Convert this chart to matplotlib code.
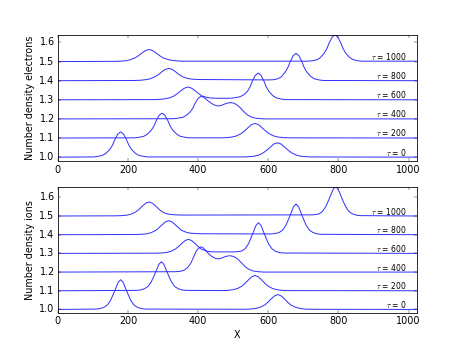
import matplotlib
matplotlib.use("Agg")
import matplotlib.pyplot as plt

taus = [0, 200, 400, 600, 800, 1000]
offsets = [0.0, 0.1, 0.2, 0.3, 0.4, 0.5]
xticks = [0, 200, 400, 600, 800, 1000]
yticks = [1.0, 1.1, 1.2, 1.3, 1.4, 1.5, 1.6]

# ---------------- electrons ----------------
e_x_0 = [0, 101, 114, 127, 137, 148, 156, 163, 171, 179, 187, 195, 202, 210, 221, 231, 244, 257,
         527, 543, 560, 573, 586, 596, 606, 616, 626, 636, 646, 656, 666, 679, 692, 709, 725, 1023]
e_n_0 = [1.0, 1.001, 1.004, 1.009, 1.020, 1.040, 1.064, 1.094, 1.121, 1.132, 1.121, 1.094, 1.064, 1.040, 1.020, 1.009, 1.004, 1.001,
         1.001, 1.002, 1.005, 1.011, 1.023, 1.037, 1.053, 1.069, 1.075, 1.069, 1.053, 1.037, 1.023, 1.011, 1.005, 1.002, 1.001, 1.0]

e_x_200 = [0, 219, 232, 245, 255, 266, 274, 281, 289, 297, 305, 313, 320, 328, 339, 349, 362, 375,
           463, 479, 496, 509, 522, 532, 542, 552, 562, 572, 582, 592, 602, 615, 628, 645, 661, 1023]
e_n_200 = [1.0, 1.001, 1.004, 1.009, 1.020, 1.040, 1.063, 1.093, 1.119, 1.130, 1.119, 1.093, 1.063, 1.040, 1.020, 1.009, 1.004, 1.001,
           1.001, 1.002, 1.005, 1.011, 1.023, 1.037, 1.054, 1.070, 1.076, 1.070, 1.054, 1.037, 1.023, 1.011, 1.005, 1.002, 1.001, 1.0]

e_x_400 = [0, 330, 343, 356, 366, 377, 385, 392, 400, 408, 415, 422, 430, 438, 446, 452, 458,
           465, 472, 480, 487, 494, 502, 510, 518, 526, 534, 542, 550, 560, 572, 588, 1023]
e_n_400 = [1.0, 1.001, 1.004, 1.008, 1.018, 1.036, 1.057, 1.084, 1.108, 1.118, 1.114, 1.104, 1.092, 1.081, 1.073, 1.069, 1.068,
           1.070, 1.075, 1.081, 1.084, 1.085, 1.082, 1.074, 1.062, 1.046, 1.031, 1.019, 1.011, 1.005, 1.002, 1.0, 1.0]

e_x_600 = [0, 272, 288, 305, 318, 331, 341, 351, 361, 371, 381, 391, 401, 411, 424, 437, 454, 470,
           493, 506, 519, 529, 540, 548, 555, 563, 571, 579, 587, 594, 602, 613, 623, 636, 649, 1023]
e_n_600 = [1.0, 1.001, 1.002, 1.005, 1.010, 1.020, 1.033, 1.048, 1.061, 1.067, 1.061, 1.048, 1.033, 1.020, 1.013, 1.009, 1.008, 1.008,
           1.008, 1.011, 1.016, 1.025, 1.043, 1.068, 1.100, 1.128, 1.140, 1.128, 1.100, 1.068, 1.043, 1.021, 1.010, 1.004, 1.001, 1.0]

e_x_800 = [0, 217, 233, 250, 263, 276, 286, 296, 306, 316, 326, 336, 346, 356, 369, 382, 399, 415,
           601, 614, 627, 637, 648, 656, 663, 671, 679, 687, 695, 702, 710, 721, 731, 744, 757, 1023]
e_n_800 = [1.0, 1.001, 1.002, 1.005, 1.010, 1.020, 1.031, 1.046, 1.059, 1.064, 1.059, 1.046, 1.031, 1.020, 1.012, 1.008, 1.006, 1.006,
           1.004, 1.005, 1.010, 1.020, 1.044, 1.070, 1.102, 1.131, 1.143, 1.131, 1.102, 1.070, 1.044, 1.022, 1.010, 1.004, 1.001, 1.0]

e_x_1000 = [0, 161, 177, 194, 207, 220, 230, 240, 250, 260, 270, 280, 290, 300, 313, 326, 343, 359,
            712, 725, 738, 748, 759, 767, 774, 782, 790, 798, 806, 813, 821, 832, 842, 855, 868, 1023]
e_n_1000 = [1.0, 1.001, 1.002, 1.004, 1.010, 1.019, 1.031, 1.045, 1.058, 1.063, 1.058, 1.045, 1.031, 1.019, 1.011, 1.006, 1.003, 1.002,
            1.002, 1.004, 1.009, 1.020, 1.043, 1.068, 1.100, 1.128, 1.140, 1.128, 1.100, 1.068, 1.043, 1.021, 1.010, 1.004, 1.002, 1.002]

# ---------------- ions ----------------
i_x_0 = [0, 107, 119, 131, 141, 150, 157, 165, 172, 179, 186, 193, 201, 208, 217, 227, 239, 251,
         534, 549, 565, 577, 590, 599, 608, 618, 627, 636, 646, 655, 664, 677, 689, 705, 720, 1023]
i_n_0 = [1.0, 1.002, 1.004, 1.011, 1.024, 1.048, 1.077, 1.113, 1.146, 1.159, 1.146, 1.113, 1.077, 1.048, 1.024, 1.011, 1.004, 1.002,
         1.001, 1.002, 1.006, 1.012, 1.024, 1.039, 1.057, 1.073, 1.080, 1.073, 1.057, 1.039, 1.024, 1.012, 1.006, 1.002, 1.001, 1.0]

i_x_200 = [0, 223, 235, 247, 257, 266, 273, 281, 288, 295, 302, 309, 317, 324, 333, 343, 355, 367,
           469, 484, 500, 512, 525, 534, 543, 553, 562, 571, 581, 590, 599, 612, 624, 640, 655, 1023]
i_n_200 = [1.0, 1.002, 1.004, 1.011, 1.023, 1.047, 1.075, 1.110, 1.142, 1.155, 1.142, 1.110, 1.075, 1.047, 1.023, 1.011, 1.004, 1.002,
           1.001, 1.002, 1.006, 1.012, 1.025, 1.040, 1.058, 1.075, 1.082, 1.075, 1.058, 1.040, 1.025, 1.012, 1.006, 1.002, 1.001, 1.0]

i_x_400 = [0, 336, 348, 360, 370, 379, 386, 394, 401, 408, 414, 421, 428, 436, 444, 451, 458,
           465, 472, 480, 487, 494, 501, 509, 517, 525, 533, 541, 549, 559, 571, 587, 1023]
i_n_400 = [1.0, 1.002, 1.004, 1.010, 1.024, 1.048, 1.076, 1.110, 1.128, 1.135, 1.130, 1.117, 1.102, 1.088, 1.078, 1.072, 1.071,
           1.074, 1.079, 1.084, 1.087, 1.087, 1.083, 1.075, 1.062, 1.046, 1.031, 1.019, 1.011, 1.005, 1.002, 1.0, 1.0]

i_x_600 = [0, 279, 294, 310, 322, 335, 344, 353, 363, 372, 381, 391, 400, 409, 422, 434, 450, 465,
           500, 512, 524, 534, 543, 550, 558, 565, 572, 579, 586, 594, 601, 610, 620, 632, 644, 1023]
i_n_600 = [1.0, 1.001, 1.002, 1.005, 1.011, 1.023, 1.037, 1.053, 1.069, 1.075, 1.069, 1.053, 1.037, 1.023, 1.013, 1.009, 1.008, 1.008,
           1.008, 1.009, 1.013, 1.025, 1.050, 1.080, 1.117, 1.150, 1.164, 1.150, 1.117, 1.080, 1.050, 1.025, 1.012, 1.004, 1.002, 1.0]

i_x_800 = [0, 223, 238, 254, 266, 279, 288, 297, 307, 316, 325, 335, 344, 353, 366, 378, 394, 409,
           607, 619, 631, 641, 650, 657, 665, 672, 679, 686, 693, 701, 708, 717, 727, 739, 751, 1023]
i_n_800 = [1.0, 1.001, 1.002, 1.005, 1.011, 1.023, 1.037, 1.053, 1.069, 1.075, 1.069, 1.053, 1.037, 1.023, 1.013, 1.008, 1.006, 1.005,
           1.004, 1.006, 1.012, 1.025, 1.050, 1.080, 1.117, 1.150, 1.164, 1.150, 1.117, 1.080, 1.050, 1.025, 1.012, 1.004, 1.002, 1.0]

i_x_1000 = [0, 167, 182, 198, 210, 223, 232, 241, 251, 260, 269, 279, 288, 297, 310, 322, 338, 353,
            720, 732, 744, 754, 763, 770, 778, 785, 792, 799, 806, 814, 821, 830, 840, 852, 864, 1023]
i_n_1000 = [1.0, 1.001, 1.002, 1.005, 1.011, 1.023, 1.037, 1.053, 1.069, 1.075, 1.069, 1.053, 1.037, 1.023, 1.012, 1.008, 1.006, 1.005,
            1.006, 1.007, 1.011, 1.024, 1.048, 1.076, 1.112, 1.144, 1.157, 1.144, 1.112, 1.076, 1.048, 1.024, 1.011, 1.004, 1.002, 1.0]

electrons = [(e_x_0, e_n_0), (e_x_200, e_n_200), (e_x_400, e_n_400),
             (e_x_600, e_n_600), (e_x_800, e_n_800), (e_x_1000, e_n_1000)]
ions = [(i_x_0, i_n_0), (i_x_200, i_n_200), (i_x_400, i_n_400),
        (i_x_600, i_n_600), (i_x_800, i_n_800), (i_x_1000, i_n_1000)]

plt.style.use("classic")
DPI = 58
fig, axes = plt.subplots(2, 1, figsize=(463 / DPI, 348 / DPI), dpi=DPI)
fig.patch.set_facecolor("white")

panels = [(axes[0], electrons, "Number density electrons", (0.978, 1.64)),
          (axes[1], ions, "Number density ions", (0.980, 1.657))]

for ax, curves, ylabel, ylim in panels:
    for tau, off, (xs, ns) in zip(taus, offsets, curves):
        ax.plot(xs, [v + off for v in ns], color=(0.2, 0.2, 1.0), lw=1.25)
        ax.text(994, 1.0 + off + 0.008, r"$\tau$ = %d" % tau, ha="right",
                va="baseline", fontsize=9.5)
    ax.set_xlim(0, 1023)
    ax.set_ylim(*ylim)
    ax.set_xticks(xticks)
    ax.set_yticks(yticks)
    ax.set_ylabel(ylabel)

axes[1].set_xlabel("X")

fig.savefig("out.png", dpi=DPI, facecolor="white")
